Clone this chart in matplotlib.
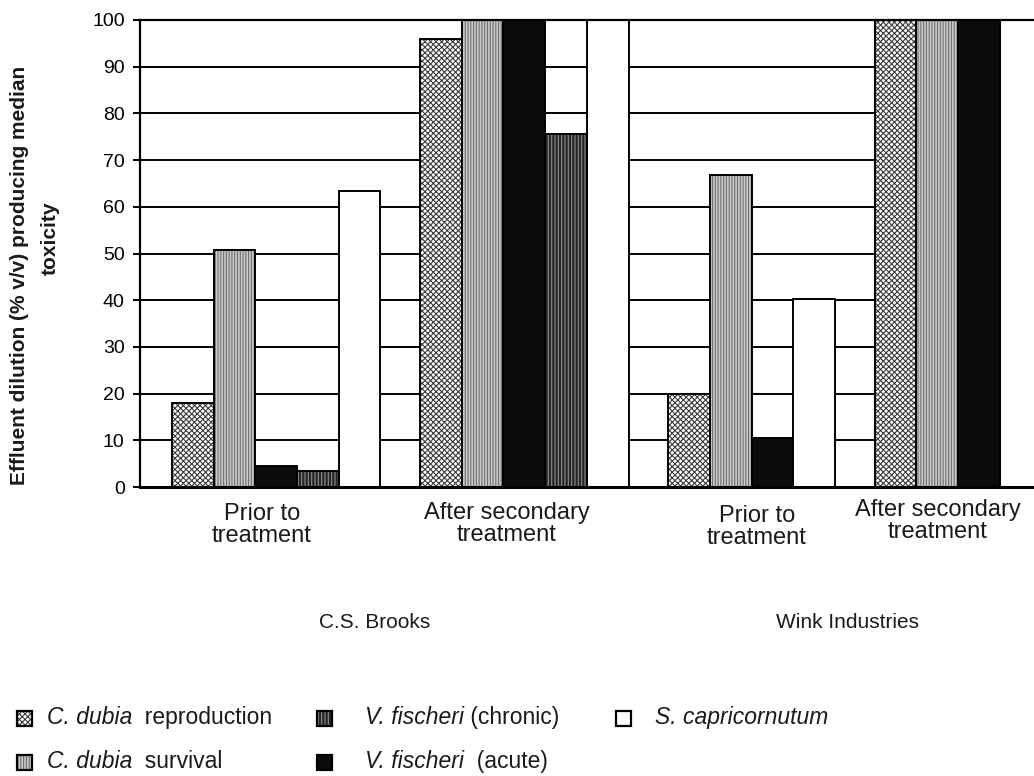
import numpy as np
import matplotlib
matplotlib.use("Agg")
import matplotlib.pyplot as plt
from matplotlib.patches import Rectangle

plt.rcParams['font.family'] = ['Liberation Sans', 'DejaVu Sans']
plt.rcParams['hatch.linewidth'] = 0.8

# ---------------- data ----------------
categories = ["Prior to\ntreatment", "After secondary\ntreatment",
              "Prior to\ntreatment", "After secondary\ntreatment"]
companies = ["C.S. Brooks", "Wink Industries"]
series_italic = ["C. dubia", "C. dubia", "V. fischeri", "V. fischeri", "S. capricornutum"]
series_rest = ["  reproduction", "  survival", "  (acute)", " (chronic)", ""]
c_dubia_reproduction = [17.9, 95.9, 20.0, 100.0]
c_dubia_survival = [50.7, 100.0, 66.8, 100.0]
v_fischeri_acute = [4.4, 100.0, 10.4, 100.0]
v_fischeri_chronic = [3.5, 75.5, np.nan, np.nan]
s_capricornutum = [63.4, 100.0, 40.3, 100.0]
yticks = list(range(0, 101, 10))

values = [c_dubia_reproduction, c_dubia_survival, v_fischeri_acute,
          v_fischeri_chronic, s_capricornutum]

# ---------------- styles ----------------
styles = [
    dict(face='white', hatch='xxxxxx', hcolor='#3c3c3c'),
    dict(face='#c9c9c9', hatch='||||||', hcolor='#707070'),
    dict(face='#0b0b0b', hatch=None, hcolor='#0b0b0b'),
    dict(face='#262626', hatch='|||||', hcolor='#8c8c8c'),
    dict(face='white', hatch=None, hcolor='white'),
]

W, H = 1034, 776
fig = plt.figure(figsize=(W / 100, H / 100), dpi=100)
slot_px = 41.7
ax = fig.add_axes([140 / W, 1 - 487 / H, (W - 140) / W, (487 - 20) / H])
ax.set_xlim(0, (W - 140) / slot_px)
ax.set_ylim(0, 100)

first_start = 0.767
gap = 0.95
x = first_start
for g in range(len(categories)):
    for s, vals in enumerate(values):
        v = vals[g]
        if np.isnan(v):
            continue
        st = styles[s]
        ax.bar(x, v, width=1.0, align='edge', color=st['face'],
               edgecolor=st['hcolor'], linewidth=0, hatch=st['hatch'], zorder=2)
        ax.bar(x, v, width=1.0, align='edge', fill=False,
               edgecolor='black', linewidth=1.4, zorder=3)
        x += 1.0
    x += gap

ax.set_yticks(yticks)
ax.set_xticks([])
ax.grid(axis='y', color='black', linewidth=1.4)
ax.set_axisbelow(True)
ax.tick_params(axis='y', direction='out', length=5, width=1.4, labelsize=14, pad=6)
ax.spines['right'].set_visible(False)
ax.spines['top'].set_linewidth(1.6)
ax.spines['left'].set_linewidth(1.6)
ax.spines['bottom'].set_linewidth(2.2)

# ---------------- overlay for texts & legend (pixel coordinates) ----------------
ov = fig.add_axes([0, 0, 1, 1])
ov.set_xlim(0, W)
ov.set_ylim(H, 0)
ov.set_axis_off()

ov.text(20, 275, "Effluent dilution (% v/v) producing median", rotation=90,
        ha='center', va='center', fontsize=15, fontweight='bold', color='#1a1a1a')
ov.text(50, 238, "toxicity", rotation=90, ha='center', va='center',
        fontsize=15, fontweight='bold', color='#1a1a1a')

cat_x = [262, 507, 757, 938]
cat_y = [525, 524, 527, 521]
for cx, cy, lab in zip(cat_x, cat_y, categories):
    ov.text(cx, cy, lab, ha='center', va='center', fontsize=17,
            linespacing=1.0, color='#1a1a1a')

comp_x = [375, 847]
for cx, lab in zip(comp_x, companies):
    ov.text(cx, 622, lab, ha='center', va='center', fontsize=15, color='#1a1a1a')

leg_pos = [(17, 47, 718), (17, 47, 762), (317, 365, 762), (317, 365, 718), (616, 655, 718)]
sq = 15
fig.canvas.draw()
renderer = fig.canvas.get_renderer()
for s, (it, rest, (bx, tx, ty)) in enumerate(zip(series_italic, series_rest, leg_pos)):
    st = styles[s]
    ov.add_patch(Rectangle((bx, ty - sq / 2), sq, sq, facecolor=st['face'],
                           edgecolor=st['hcolor'], linewidth=0, hatch=st['hatch']))
    ov.add_patch(Rectangle((bx, ty - sq / 2), sq, sq, fill=False,
                           edgecolor='black', linewidth=1.6))
    t1 = ov.text(tx, ty + 6, it, ha='left', va='baseline', fontsize=16.5,
                 style='italic', color='#1a1a1a')
    if rest:
        bb = t1.get_window_extent(renderer=renderer)
        ov.text(bb.x1, ty + 6, rest, ha='left', va='baseline', fontsize=16.5,
                color='#1a1a1a')

fig.savefig("out.png", dpi=100, facecolor='white')
